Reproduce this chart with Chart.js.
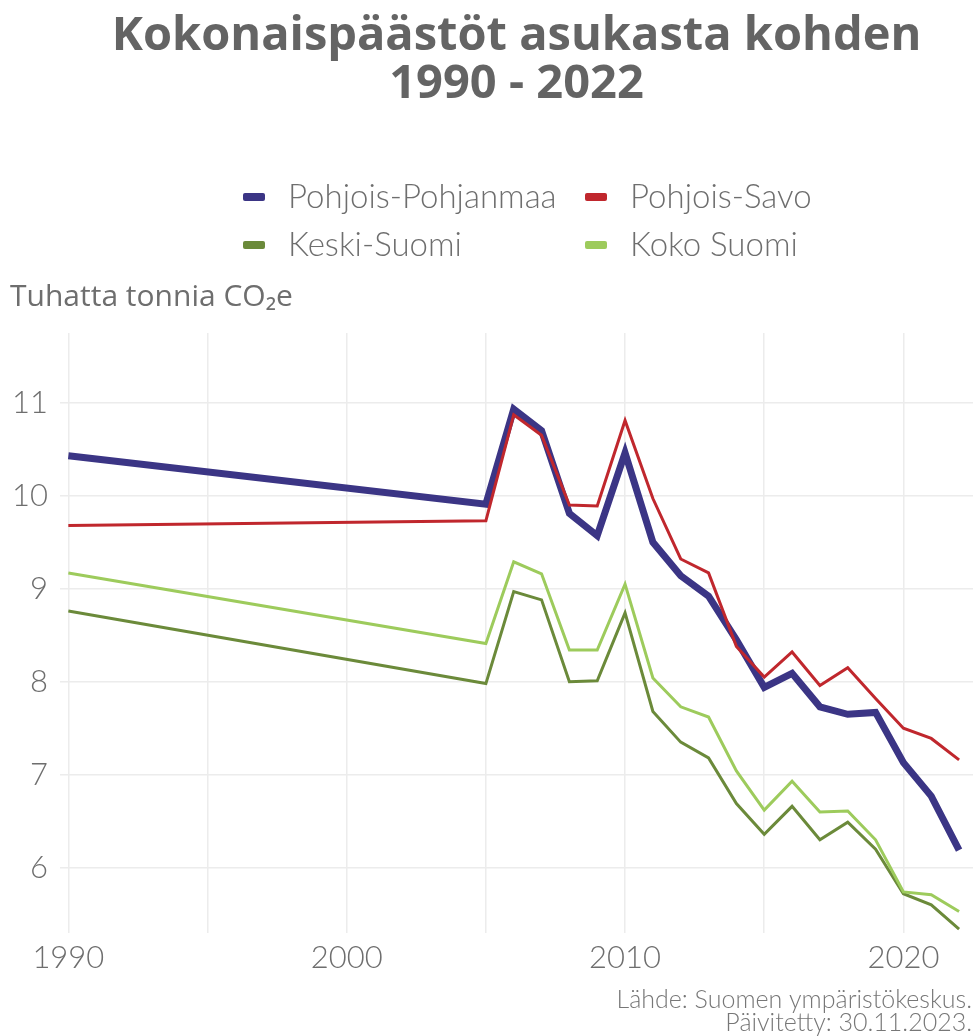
<!DOCTYPE html>
<html>
<head>
<meta charset="utf-8">
<script src="https://cdn.jsdelivr.net/npm/chart.js@4"></script>
<style>
  body { margin: 0; background: #fff; }
  #wrap { width: 974px; height: 1036px; }
</style>
</head>
<body>
<div id="wrap"><canvas id="chart" width="974" height="1036"></canvas></div>
<script>
// Vuodet ja arvot (tuhatta tonnia CO2e / asukas), luettu kuvasta
const years = [1990, 2005, 2006, 2007, 2008, 2009, 2010, 2011, 2012, 2013, 2014, 2015, 2016, 2017, 2018, 2019, 2020, 2021, 2022];
const pohjoisPohjanmaa = [10.43, 9.91, 10.93, 10.70, 9.81, 9.57, 10.46, 9.50, 9.14, 8.92, 8.45, 7.94, 8.09, 7.73, 7.65, 7.67, 7.13, 6.77, 6.19];
const pohjoisSavo = [9.68, 9.73, 10.87, 10.65, 9.90, 9.89, 10.81, 9.97, 9.32, 9.17, 8.38, 8.05, 8.32, 7.96, 8.15, 7.82, 7.50, 7.39, 7.16];
const keskiSuomi = [8.76, 7.98, 8.97, 8.88, 8.00, 8.01, 8.74, 7.68, 7.35, 7.18, 6.69, 6.36, 6.66, 6.30, 6.49, 6.20, 5.72, 5.60, 5.34];
const kokoSuomi = [9.17, 8.41, 9.29, 9.16, 8.34, 8.34, 9.05, 8.04, 7.73, 7.62, 7.04, 6.62, 6.93, 6.60, 6.61, 6.30, 5.74, 5.71, 5.53];

const seriesNames = ['Pohjois-Pohjanmaa', 'Pohjois-Savo', 'Keski-Suomi', 'Koko Suomi'];
const seriesColors = ['#3b3585', '#c0272d', '#6b8a3a', '#9dcb5c'];
const xTickLabels = [1990, 2000, 2010, 2020];

const toPoints = vals => vals.map((v, i) => ({ x: years[i], y: v }));

const grey = '#6e6e6e';

// Legend in two columns + source text at the bottom
const extras = {
    id: 'extras',
    afterDraw(chart) {
        const ctx = chart.ctx;
        ctx.save();
        ctx.font = '300 33px Lato';
        ctx.textBaseline = 'middle';
        ctx.textAlign = 'left';
        const cols = [243, 585];
        const rows = [197, 245];
        seriesNames.forEach((name, i) => {
            const cx = cols[i % 2];
            const cy = rows[Math.floor(i / 2)];
            ctx.fillStyle = seriesColors[i];
            ctx.beginPath();
            ctx.roundRect(cx, cy - 4, 22, 8, 2);
            ctx.fill();
            ctx.fillStyle = grey;
            ctx.fillText(name, cx + 45, cy);
        });
        ctx.font = '300 25px Lato';
        ctx.fillStyle = '#777';
        ctx.textAlign = 'right';
        ctx.fillText('Lähde: Suomen ympäristökeskus.', 972, 1000);
        ctx.fillText('Päivitetty: 30.11.2023.', 972, 1023);
        ctx.restore();
    }
};

const ctx = document.getElementById('chart').getContext('2d');
new Chart(ctx, {
    type: 'line',
    data: {
        datasets: [
            { label: seriesNames[0], data: toPoints(pohjoisPohjanmaa), borderColor: seriesColors[0], borderWidth: 7, order: 4 },
            { label: seriesNames[1], data: toPoints(pohjoisSavo), borderColor: seriesColors[1], borderWidth: 3, order: 1 },
            { label: seriesNames[2], data: toPoints(keskiSuomi), borderColor: seriesColors[2], borderWidth: 3, order: 3 },
            { label: seriesNames[3], data: toPoints(kokoSuomi), borderColor: seriesColors[3], borderWidth: 3, order: 2 }
        ]
    },
    options: {
        responsive: false,
        animation: false,
        devicePixelRatio: 1,
        clip: false,
        elements: {
            point: { radius: 0 },
            line: { tension: 0, borderJoinStyle: 'miter' }
        },
        layout: { padding: { left: 10, right: 1, top: 0, bottom: 52 } },
        scales: {
            x: {
                type: 'linear',
                min: 1989.7,
                max: 2022.5,
                border: { display: false },
                grid: { color: '#ececec', lineWidth: 1.5, drawTicks: false },
                ticks: {
                    stepSize: 5,
                    includeBounds: false,
                    autoSkip: false,
                    maxRotation: 0,
                    padding: 7,
                    color: grey,
                    font: { family: 'Lato', size: 31, weight: 300 },
                    callback: v => xTickLabels.includes(v) ? String(v) : ''
                }
            },
            y: {
                min: 5.3,
                max: 11.75,
                border: { display: false },
                grid: { color: '#ececec', lineWidth: 1.5, drawTicks: false },
                ticks: {
                    stepSize: 1,
                    includeBounds: false,
                    padding: 12,
                    color: grey,
                    font: { family: 'Lato', size: 31, weight: 300 }
                },
                afterFit: s => { s.width = 50; }
            }
        },
        plugins: {
            legend: { display: false },
            tooltip: { enabled: false },
            title: {
                display: true,
                fullSize: false,
                text: ['Kokonaispäästöt asukasta kohden', '1990 - 2022'],
                color: '#646464',
                font: { family: 'Open Sans', size: 47, weight: 'bold', lineHeight: '48px' },
                padding: { top: 13, bottom: 0 }
            },
            subtitle: {
                display: true,
                text: 'Tuhatta tonnia CO₂e',
                align: 'start',
                color: grey,
                font: { family: 'Open Sans', size: 30, weight: 'normal', lineHeight: 1.2 },
                padding: { top: 170, bottom: 18 }
            }
        }
    },
    plugins: [extras]
});
</script>
</body>
</html>
